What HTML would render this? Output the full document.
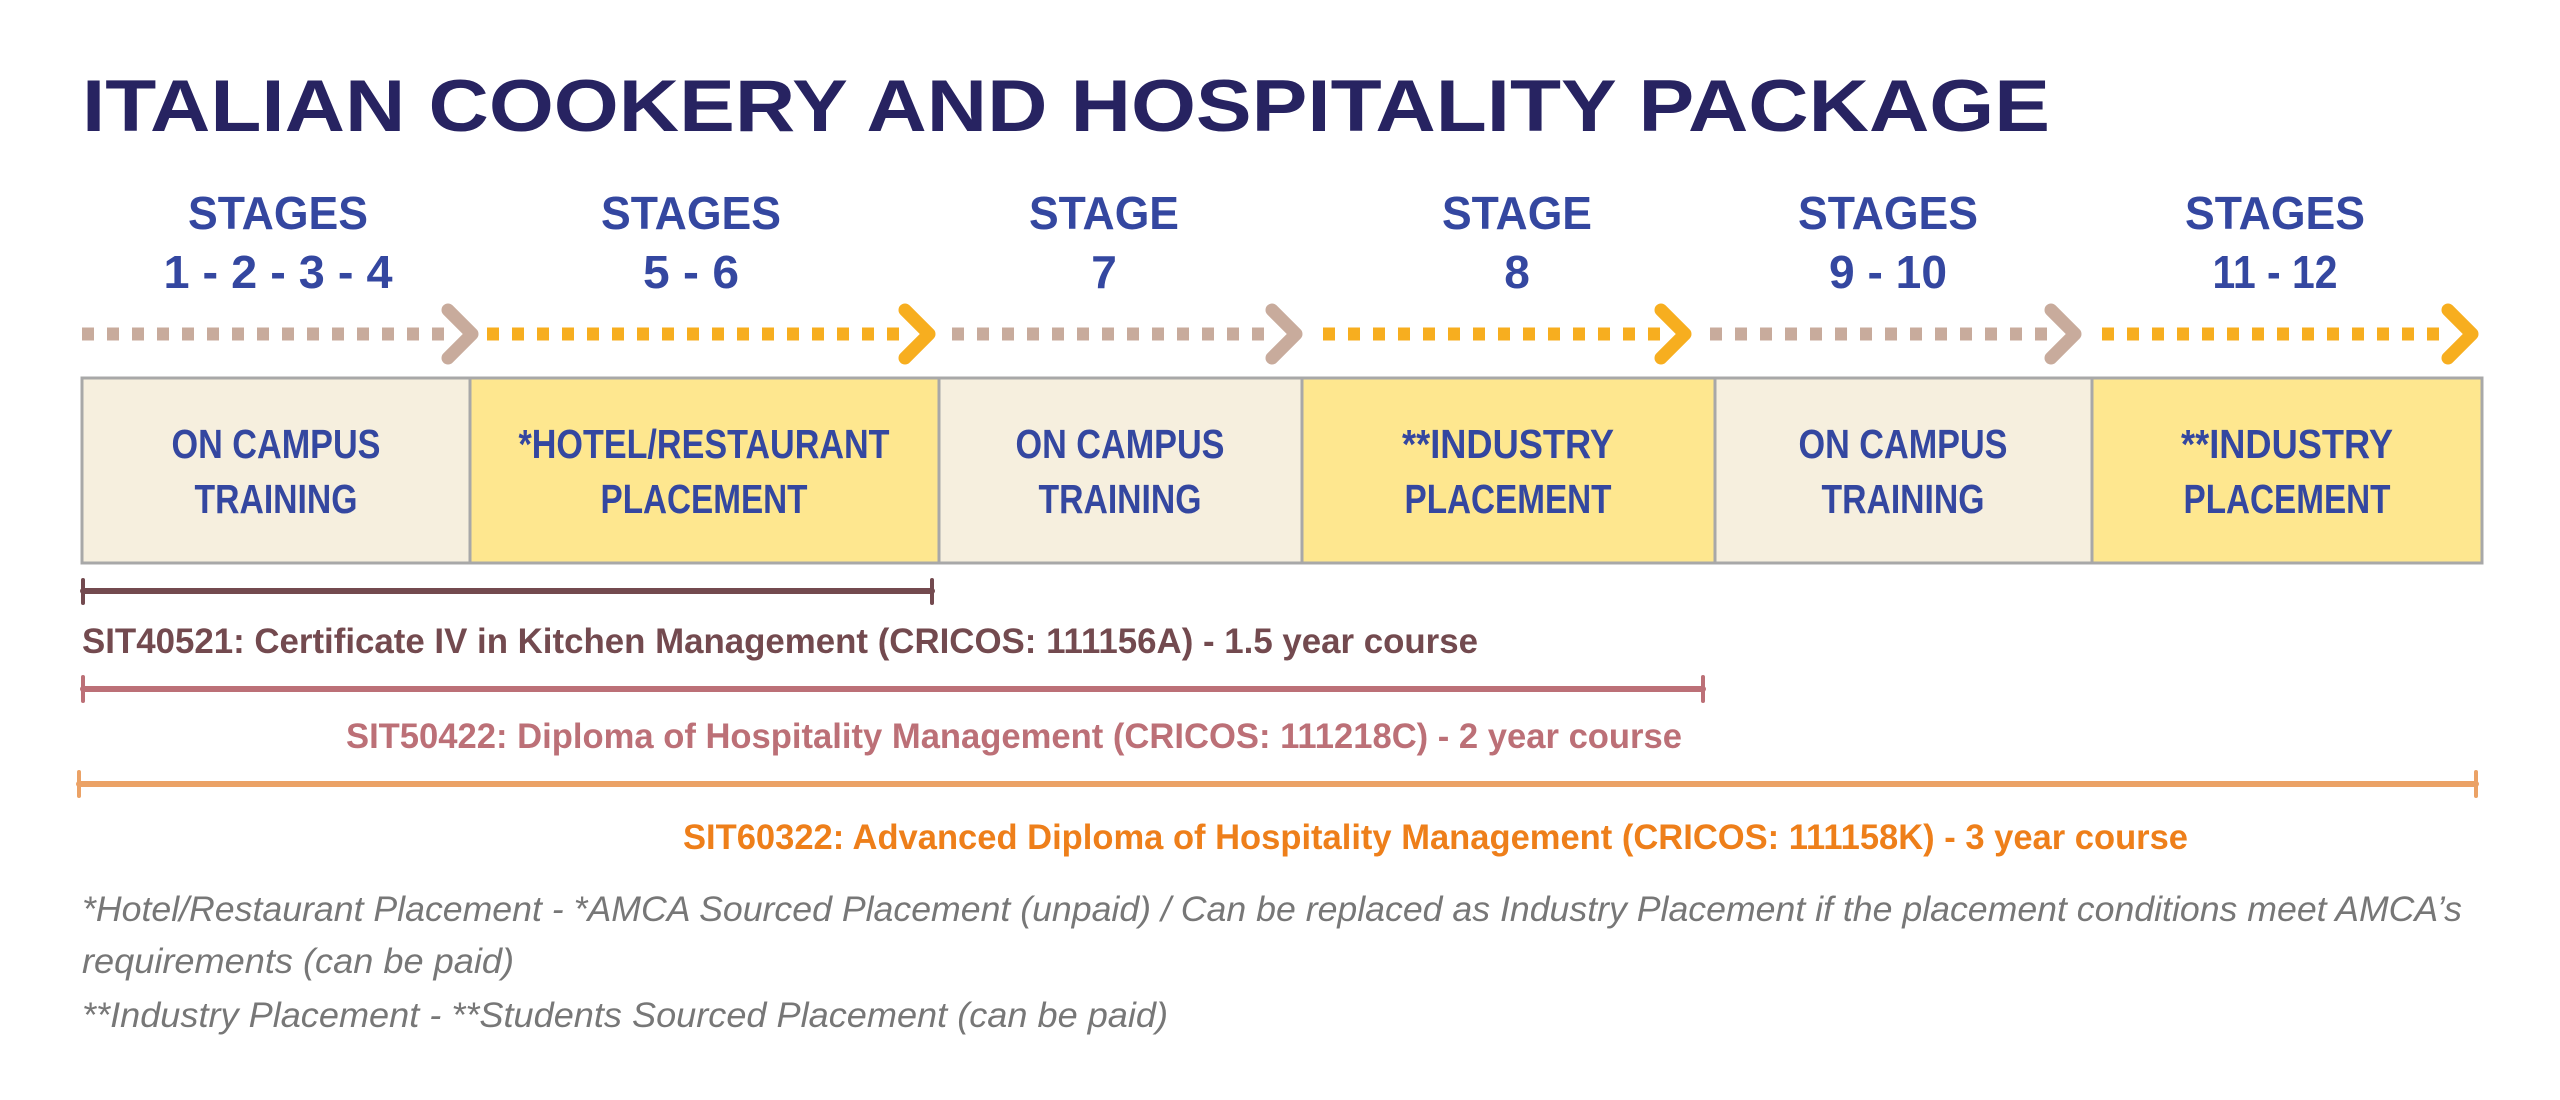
<!DOCTYPE html>
<html><head><meta charset="utf-8"><style>html,body{margin:0;padding:0;background:#fff}svg{display:block}</style></head>
<body>
<svg width="2560" height="1100" viewBox="0 0 2560 1100" xmlns="http://www.w3.org/2000/svg" font-family="Liberation Sans, sans-serif">
<rect width="2560" height="1100" fill="#fff"/>
<text x="82" y="131" font-size="73" font-weight="bold" fill="#272361" textLength="1968" lengthAdjust="spacingAndGlyphs">ITALIAN COOKERY AND HOSPITALITY PACKAGE</text>

<g font-size="46" font-weight="bold" fill="#3447a0" text-anchor="middle">
<text x="278" y="229" textLength="180" lengthAdjust="spacingAndGlyphs">STAGES</text>
<text x="278" y="288" textLength="229" lengthAdjust="spacingAndGlyphs">1 - 2 - 3 - 4</text>
<text x="691" y="229" textLength="180" lengthAdjust="spacingAndGlyphs">STAGES</text>
<text x="691" y="288" textLength="96" lengthAdjust="spacingAndGlyphs">5 - 6</text>
<text x="1104" y="229" textLength="150" lengthAdjust="spacingAndGlyphs">STAGE</text>
<text x="1104" y="288">7</text>
<text x="1517" y="229" textLength="150" lengthAdjust="spacingAndGlyphs">STAGE</text>
<text x="1517" y="288">8</text>
<text x="1888" y="229" textLength="180" lengthAdjust="spacingAndGlyphs">STAGES</text>
<text x="1888" y="288" textLength="118" lengthAdjust="spacingAndGlyphs">9 - 10</text>
<text x="2275" y="229" textLength="180" lengthAdjust="spacingAndGlyphs">STAGES</text>
<text x="2275" y="288" textLength="125" lengthAdjust="spacingAndGlyphs">11 - 12</text>
</g>

<g stroke-width="13" stroke-dasharray="12 13" fill="none">
<line x1="82" y1="334" x2="446" y2="334" stroke="#c8ab9c"/>
<line x1="487" y1="334" x2="905" y2="334" stroke="#f7ae1f"/>
<line x1="952" y1="334" x2="1272" y2="334" stroke="#c8ab9c"/>
<line x1="1323" y1="334" x2="1660" y2="334" stroke="#f7ae1f"/>
<line x1="1710" y1="334" x2="2050" y2="334" stroke="#c8ab9c"/>
<line x1="2102" y1="334" x2="2448" y2="334" stroke="#f7ae1f"/>
</g>
<g stroke-width="13" stroke-linecap="round" stroke-linejoin="round" fill="none">
<polyline points="448,310 472,334 448,358" stroke="#c8ab9c"/>
<polyline points="905,310 929,334 905,358" stroke="#f7ae1f"/>
<polyline points="1272,310 1296,334 1272,358" stroke="#c8ab9c"/>
<polyline points="1661,310 1685,334 1661,358" stroke="#f7ae1f"/>
<polyline points="2051,310 2075,334 2051,358" stroke="#c8ab9c"/>
<polyline points="2448,310 2472,334 2448,358" stroke="#f7ae1f"/>
</g>

<g stroke="#a8a8a8" stroke-width="3">
<rect x="82" y="378" width="388" height="185" fill="#f6efde"/>
<rect x="470" y="378" width="469" height="185" fill="#fee78f"/>
<rect x="939" y="378" width="363" height="185" fill="#f6efde"/>
<rect x="1302" y="378" width="413" height="185" fill="#fee78f"/>
<rect x="1715" y="378" width="377" height="185" fill="#f6efde"/>
<rect x="2092" y="378" width="390" height="185" fill="#fee78f"/>
</g>
<g font-size="41" font-weight="bold" fill="#3447a0" text-anchor="middle">
<text x="276" y="458" textLength="209" lengthAdjust="spacingAndGlyphs">ON CAMPUS</text>
<text x="276" y="513" textLength="163" lengthAdjust="spacingAndGlyphs">TRAINING</text>
<text x="704" y="458" textLength="371" lengthAdjust="spacingAndGlyphs">*HOTEL/RESTAURANT</text>
<text x="704" y="513" textLength="207" lengthAdjust="spacingAndGlyphs">PLACEMENT</text>
<text x="1120" y="458" textLength="209" lengthAdjust="spacingAndGlyphs">ON CAMPUS</text>
<text x="1120" y="513" textLength="163" lengthAdjust="spacingAndGlyphs">TRAINING</text>
<text x="1508" y="458" textLength="212" lengthAdjust="spacingAndGlyphs">**INDUSTRY</text>
<text x="1508" y="513" textLength="207" lengthAdjust="spacingAndGlyphs">PLACEMENT</text>
<text x="1903" y="458" textLength="209" lengthAdjust="spacingAndGlyphs">ON CAMPUS</text>
<text x="1903" y="513" textLength="163" lengthAdjust="spacingAndGlyphs">TRAINING</text>
<text x="2287" y="458" textLength="212" lengthAdjust="spacingAndGlyphs">**INDUSTRY</text>
<text x="2287" y="513" textLength="207" lengthAdjust="spacingAndGlyphs">PLACEMENT</text>
</g>

<g stroke-linecap="round">
<line x1="83" y1="591" x2="932" y2="591" stroke="#734a4f" stroke-width="6"/>
<line x1="83" y1="580" x2="83" y2="603" stroke="#734a4f" stroke-width="4"/>
<line x1="932" y1="580" x2="932" y2="603" stroke="#734a4f" stroke-width="4"/>
<line x1="83" y1="689" x2="1703" y2="689" stroke="#bc7077" stroke-width="6"/>
<line x1="83" y1="677" x2="83" y2="701" stroke="#bc7077" stroke-width="4"/>
<line x1="1703" y1="677" x2="1703" y2="701" stroke="#bc7077" stroke-width="4"/>
<line x1="79" y1="784" x2="2476" y2="784" stroke="#eba266" stroke-width="6"/>
<line x1="79" y1="772" x2="79" y2="796" stroke="#eba266" stroke-width="4"/>
<line x1="2476" y1="772" x2="2476" y2="796" stroke="#eba266" stroke-width="4"/>
</g>
<g font-size="35" font-weight="bold">
<text x="82" y="653" fill="#734a4f" textLength="1396" lengthAdjust="spacingAndGlyphs">SIT40521: Certificate IV in Kitchen Management (CRICOS: 111156A) - 1.5 year course</text>
<text x="346" y="748" fill="#bc7077" textLength="1336" lengthAdjust="spacingAndGlyphs">SIT50422: Diploma of Hospitality Management (CRICOS: 111218C) - 2 year course</text>
<text x="683" y="849" fill="#ee7f1a" textLength="1505" lengthAdjust="spacingAndGlyphs">SIT60322: Advanced Diploma of Hospitality Management (CRICOS: 111158K) - 3 year course</text>
</g>
<g font-size="35" font-style="italic" fill="#777">
<text x="82" y="921" textLength="2380" lengthAdjust="spacingAndGlyphs">*Hotel/Restaurant Placement - *AMCA Sourced Placement (unpaid) / Can be replaced as Industry Placement if the placement conditions meet AMCA’s</text>
<text x="82" y="973" textLength="432" lengthAdjust="spacingAndGlyphs">requirements (can be paid)</text>
<text x="82" y="1027" textLength="1086" lengthAdjust="spacingAndGlyphs">**Industry Placement - **Students Sourced Placement (can be paid)</text>
</g>
</svg>
</body></html>
